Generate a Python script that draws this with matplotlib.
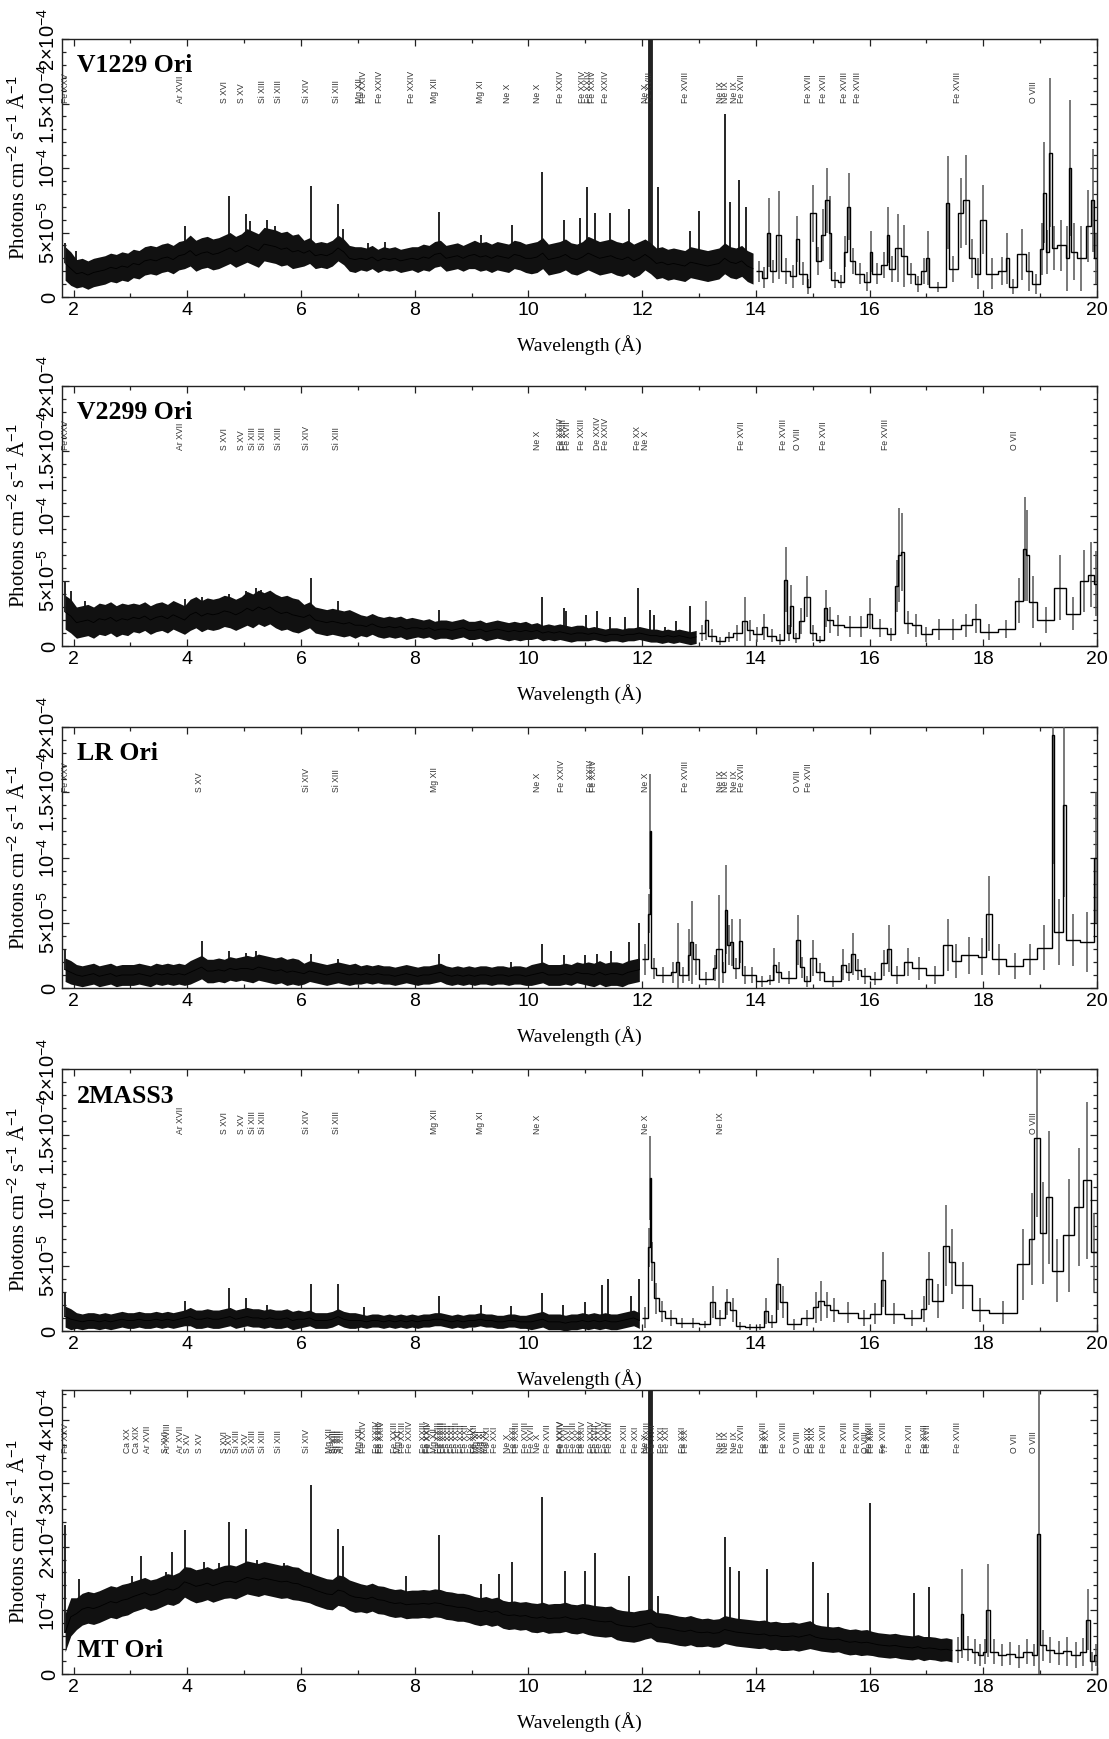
"""
X-ray spectra of five Orion stars (flux vs wavelength), five stacked panels.
"""
import numpy as np
import matplotlib
matplotlib.use("Agg")
import matplotlib.pyplot as plt
from matplotlib.ticker import MultipleLocator
from matplotlib.transforms import blended_transform_factory

plt.rcParams["font.family"] = ["Liberation Sans", "DejaVu Sans"]
plt.rcParams["mathtext.fontset"] = "custom"
plt.rcParams["mathtext.rm"] = "Liberation Sans"
plt.rcParams["mathtext.it"] = "Liberation Sans:italic"
plt.rcParams["mathtext.bf"] = "Liberation Sans:bold"

UNIT = 1e-5          # all flux lists below are in units of 1e-5 photons/cm2/s/A
FINE_START = 1.8     # dense part of each spectrum: 0.1 A bins from here
FINE_STEP = 0.1

# ---------------- V1229 Ori ----------------
v1229_fine = [2.6, 2.2,
              1.8, 1.9, 1.7, 1.9, 2.0, 2.1, 2.3, 2.2, 2.4, 2.3,
              2.6, 2.5, 2.8, 2.9, 2.8, 3.0, 3.1, 2.9, 3.2, 3.3,
              3.6, 3.2, 3.4, 3.5, 3.3, 3.4, 3.6, 3.8, 3.5, 3.7,
              4.0, 3.8, 3.6, 4.1, 4.0, 3.9, 3.7, 3.8, 3.5, 3.6,
              3.4, 3.6, 3.2, 3.3, 3.2, 3.4, 3.8, 3.5, 3.0, 2.9,
              3.0, 2.9, 3.1, 2.8, 3.0, 2.9, 3.0, 2.8, 2.9, 3.0,
              2.9, 3.1, 3.0, 3.3, 3.4, 3.0, 3.1, 3.2, 3.0, 3.2,
              3.3, 3.1, 3.2, 3.0, 3.2, 3.1, 3.0, 3.3, 3.2, 3.0,
              3.0, 3.1, 3.4, 2.9, 3.0, 3.1, 3.3, 3.0, 2.9, 3.1,
              3.4, 3.2, 3.0, 3.1, 3.2, 3.0, 2.9, 3.1, 2.8, 3.0,
              3.3, 3.0, 2.6, 2.7, 2.5, 2.6, 2.5, 2.4, 2.7, 2.6,
              2.5, 2.4, 2.5, 2.6, 3.0, 2.7, 2.6, 2.8, 2.4, 2.2]
v1229_noise = [1.3, 1.1, 1.1, 1.2, 1.3, 1.0, 0.9, 1.0, 1.1, 1.2, 1.3, 1.2, 1.2]
v1229_spikes = [(1.85, 4.2), (2.05, 3.6), (3.95, 5.5), (4.73, 7.8), (5.04, 6.4),
                (5.10, 5.9), (5.40, 6.0), (5.55, 5.5), (5.70, 5.0), (6.18, 8.6),
                (6.65, 7.2), (6.74, 5.3), (7.17, 4.2), (7.47, 4.3), (8.42, 6.6),
                (9.17, 4.8), (9.71, 5.6), (10.24, 9.7), (10.62, 6.0), (10.90, 6.1),
                (11.03, 8.5), (11.17, 6.5), (11.43, 6.5), (11.77, 6.8), (12.13, 25.0),
                (12.28, 8.5), (12.85, 5.1), (13.00, 6.7), (13.45, 14.2), (13.55, 7.4),
                (13.70, 9.1), (13.82, 7.0)]
v1229_strong = [12.13]
# coarse bins: (lo, hi, flux, error)
v1229_bins = [(14.00, 14.10, 2.0, 0.8), (14.10, 14.20, 1.5, 0.8), (14.20, 14.25, 5.0, 2.7),
              (14.25, 14.35, 2.0, 0.9), (14.35, 14.45, 4.8, 3.4), (14.45, 14.60, 2.0, 1.0),
              (14.60, 14.70, 1.6, 0.9), (14.70, 14.75, 4.5, 1.8), (14.75, 14.90, 1.8, 0.9),
              (14.90, 14.95, 0.8, 0.6), (14.95, 15.05, 6.5, 2.2), (15.05, 15.15, 2.8, 1.1),
              (15.15, 15.22, 4.8, 2.0), (15.22, 15.28, 7.5, 2.5), (15.28, 15.32, 5.0, 2.8),
              (15.32, 15.45, 1.3, 0.6), (15.45, 15.55, 1.2, 0.5), (15.55, 15.60, 3.5, 1.2),
              (15.60, 15.66, 7.0, 2.6), (15.66, 15.75, 2.8, 1.0), (15.75, 15.90, 1.8, 0.8),
              (15.90, 16.00, 1.2, 0.7), (16.00, 16.05, 3.5, 1.6), (16.05, 16.20, 1.8, 0.8),
              (16.20, 16.30, 2.5, 1.0), (16.30, 16.35, 4.8, 2.2), (16.35, 16.45, 2.2, 1.0),
              (16.45, 16.55, 3.8, 2.6), (16.55, 16.65, 3.2, 2.4), (16.65, 16.80, 1.8, 0.8),
              (16.80, 16.90, 1.0, 0.6), (16.90, 17.00, 2.0, 1.0), (17.00, 17.05, 3.0, 2.1),
              (17.05, 17.35, 0.8, 0.4), (17.35, 17.40, 7.3, 3.6), (17.40, 17.55, 2.2, 1.0),
              (17.55, 17.65, 6.5, 2.7), (17.65, 17.75, 7.5, 3.5), (17.75, 17.85, 3.0, 1.5),
              (17.85, 17.95, 1.8, 1.2), (17.95, 18.05, 6.0, 2.7), (18.05, 18.25, 1.8, 1.2),
              (18.25, 18.40, 2.0, 1.1), (18.40, 18.45, 3.0, 2.0), (18.45, 18.60, 0.8, 0.6),
              (18.60, 18.75, 3.3, 2.0), (18.75, 18.85, 2.0, 1.5), (18.85, 19.00, 1.0, 0.8),
              (19.00, 19.05, 3.7, 2.0), (19.05, 19.10, 8.1, 3.9), (19.10, 19.15, 3.5, 1.7),
              (19.15, 19.20, 11.2, 5.8), (19.20, 19.30, 3.8, 1.7), (19.30, 19.45, 4.0, 2.0),
              (19.45, 19.50, 3.0, 2.5), (19.50, 19.55, 10.0, 5.3), (19.55, 19.65, 3.5, 2.2),
              (19.65, 19.80, 3.0, 2.5), (19.80, 19.90, 5.5, 2.8), (19.90, 19.95, 7.5, 4.0),
              (19.95, 20.00, 3.0, 2.0)]
v1229_ids = [(1.93, "Fe XXV"), (3.95, "Ar XVII"), (4.73, "S XVI"), (5.04, "S XV"),
             (5.40, "Si XIII"), (5.68, "Si XIII"), (6.18, "Si XIV"), (6.70, "Si XIII"),
             (7.11, "Mg XII"), (7.17, "Fe XXIV"), (7.46, "Fe XXIV"), (8.03, "Fe XXIV"),
             (8.42, "Mg XII"), (9.23, "Mg XI"), (9.71, "Ne X"), (10.24, "Ne X"),
             (10.64, "Fe XXIV"), (11.03, "Fe XXIV"), (11.14, "Fe XXIV"), (11.20, "Fe XXIV"),
             (11.43, "Fe XXIV"), (12.13, "Ne X"), (12.20, "Fe XVIII"), (12.85, "Fe XVIII"),
             (13.45, "Ne IX"), (13.55, "Ne IX"), (13.70, "Ne IX"), (13.82, "Fe XVII"),
             (15.01, "Fe XVII"), (15.26, "Fe XVII"), (15.63, "Fe XVIII"), (15.87, "Fe XVIII"),
             (17.62, "Fe XVIII"), (18.97, "O VIII")]

# ---------------- V2299 Ori ----------------
v2299_fine = [2.6, 2.3,
              1.8, 1.9, 2.0, 1.8, 2.1, 2.0, 2.2, 1.9, 2.1, 2.0,
              2.2, 2.1, 2.3, 2.0, 2.2, 2.3, 2.1, 2.4, 2.2, 2.0,
              2.4, 2.6, 2.3, 2.5, 2.4, 2.5, 2.7, 2.6, 2.4, 2.6,
              2.9, 2.7, 3.0, 2.8, 3.0, 2.7, 2.5, 2.6, 2.4, 2.3,
              2.2, 2.4, 2.0, 1.9, 1.8, 1.9, 1.8, 1.7, 1.8, 1.6,
              1.6, 1.5, 1.7, 1.5, 1.4, 1.5, 1.4, 1.5, 1.3, 1.4,
              1.4, 1.3, 1.4, 1.2, 1.3, 1.3, 1.2, 1.3, 1.4, 1.2,
              1.2, 1.3, 1.1, 1.2, 1.3, 1.2, 1.1, 1.2, 1.1, 1.2,
              1.1, 1.2, 1.0, 1.1, 1.0, 1.1, 1.0, 0.9, 1.0, 1.0,
              0.9, 1.0, 0.9, 0.8, 0.9, 0.9, 0.8, 0.9, 0.9, 1.0,
              0.9, 0.8, 0.8, 0.7, 0.8, 0.7, 0.8, 0.7, 0.6, 0.7]
v2299_noise = [1.3, 1.2, 1.1, 1.2, 1.3, 1.0, 0.8, 0.7, 0.7, 0.6, 0.5, 0.5]
v2299_spikes = [(1.85, 5.0), (1.95, 4.2), (2.20, 3.5), (3.95, 3.6), (4.25, 3.8),
                (4.73, 4.0), (5.04, 4.2), (5.20, 4.5), (5.30, 4.3), (5.45, 4.1),
                (6.18, 5.2), (6.65, 3.5), (8.42, 2.8), (10.24, 3.8), (10.62, 2.9),
                (10.66, 2.7), (11.02, 2.4), (11.20, 2.7), (11.43, 2.2), (11.70, 2.2),
                (11.92, 4.5), (12.13, 2.8), (12.20, 2.4), (12.40, 1.5), (12.60, 1.9),
                (12.85, 3.1)]
v2299_strong = []
v2299_bins = [(13.00, 13.10, 1.0, 0.6), (13.10, 13.15, 2.0, 1.5), (13.15, 13.30, 0.8, 0.5),
              (13.30, 13.45, 0.4, 0.3), (13.45, 13.60, 0.7, 0.4), (13.60, 13.75, 1.0, 0.6),
              (13.75, 13.85, 1.9, 1.9), (13.85, 13.95, 1.2, 0.8), (13.95, 14.10, 0.9, 0.6),
              (14.10, 14.20, 1.5, 1.0), (14.20, 14.35, 0.8, 0.5), (14.35, 14.50, 0.5, 0.4),
              (14.50, 14.55, 5.1, 2.5), (14.55, 14.60, 1.0, 0.6), (14.60, 14.65, 3.1, 1.6),
              (14.65, 14.75, 0.6, 0.4), (14.75, 14.85, 1.9, 1.0), (14.85, 14.95, 3.8, 1.6),
              (14.95, 15.05, 1.0, 0.6), (15.05, 15.20, 0.5, 0.3), (15.20, 15.25, 2.9, 1.4),
              (15.25, 15.35, 2.0, 1.0), (15.35, 15.55, 1.6, 0.8), (15.55, 15.75, 1.5, 0.8),
              (15.75, 15.95, 1.5, 0.8), (15.95, 16.05, 2.5, 1.2), (16.05, 16.30, 1.4, 0.7),
              (16.30, 16.45, 0.9, 0.5), (16.45, 16.50, 4.6, 2.0), (16.50, 16.55, 7.0, 3.6),
              (16.55, 16.60, 7.2, 3.0), (16.60, 16.75, 1.8, 0.9), (16.75, 16.90, 1.6, 0.9),
              (16.90, 17.10, 0.9, 0.6), (17.10, 17.35, 1.3, 0.8), (17.35, 17.60, 1.3, 0.8),
              (17.60, 17.80, 1.6, 0.9), (17.80, 17.95, 2.1, 1.1), (17.95, 18.25, 1.1, 0.6),
              (18.25, 18.55, 1.3, 0.7), (18.55, 18.70, 3.5, 1.7), (18.70, 18.75, 7.5, 4.0),
              (18.75, 18.80, 7.0, 3.5), (18.80, 18.95, 3.4, 2.0), (18.95, 19.25, 2.0, 1.0),
              (19.25, 19.45, 4.5, 2.5), (19.45, 19.70, 2.5, 1.3), (19.70, 19.85, 5.0, 2.4),
              (19.85, 19.95, 5.5, 2.5), (19.95, 20.00, 4.8, 2.5)]
v2299_ids = [(1.93, "Fe XXV"), (3.95, "Ar XVII"), (4.73, "S XVI"), (5.04, "S XV"),
             (5.22, "Si XIII"), (5.40, "Si XIII"), (5.68, "Si XIII"), (6.18, "Si XIV"),
             (6.70, "Si XIII"), (10.24, "Ne X"), (10.64, "Fe XXIV"), (10.70, "Fe XXIII"),
             (10.77, "Fe XVII"), (11.02, "Fe XXIII"), (11.30, "De XXIV"), (11.43, "Fe XXIV"),
             (12.00, "Fe XX"), (12.13, "Ne X"), (13.82, "Fe XVII"), (14.56, "Fe XVIII"),
             (14.82, "O VIII"), (15.26, "Fe XVII"), (16.36, "Fe XVIII"), (18.63, "O VII")]

# ---------------- LR Ori ----------------
lr_fine = [1.4, 1.2,
           1.0, 0.9, 1.0, 1.1, 0.9, 1.0, 1.1, 0.9, 1.0, 1.0,
           1.0, 1.1, 1.0, 0.9, 1.1, 1.0, 1.1, 1.0, 1.1, 1.0,
           1.2, 1.4, 1.6, 1.3, 1.3, 1.4, 1.3, 1.5, 1.4, 1.5,
           1.5, 1.4, 1.6, 1.5, 1.4, 1.3, 1.4, 1.2, 1.3, 1.2,
           1.1, 1.3, 1.2, 1.1, 1.0, 1.1, 1.2, 1.1, 1.0, 1.1,
           1.0, 1.1, 1.0, 1.1, 1.0, 1.0, 0.9, 1.0, 1.1, 1.0,
           0.9, 1.0, 1.0, 1.1, 1.2, 1.0, 0.9, 1.0, 0.9, 1.0,
           0.9, 1.0, 1.0, 0.9, 1.0, 1.0, 0.9, 1.0, 1.0, 0.9,
           1.0, 1.1, 1.2, 1.0, 1.0, 1.0, 1.1, 1.0, 1.2, 1.1,
           1.1, 1.0, 1.2, 1.0, 1.1, 1.1, 1.0, 1.2, 1.3, 1.4]
lr_noise = [0.9, 0.8, 0.8, 0.9, 1.0, 0.8, 0.7, 0.7, 0.7, 0.8, 0.9]
lr_spikes = [(1.85, 3.0), (4.25, 3.6), (4.73, 2.8), (5.04, 2.7), (5.20, 2.8),
             (6.18, 2.6), (6.65, 2.2), (8.42, 2.6), (9.70, 2.0), (10.24, 3.4),
             (10.62, 2.5), (11.00, 2.5), (11.20, 2.6), (11.45, 2.8), (11.77, 3.5),
             (11.95, 5.0)]
lr_strong = []
lr_bins = [(12.00, 12.10, 2.2, 1.2), (12.10, 12.13, 5.7, 1.5), (12.13, 12.16, 12.0, 4.4),
           (12.16, 12.25, 1.5, 0.8), (12.25, 12.50, 1.0, 0.6), (12.50, 12.60, 1.2, 0.8),
           (12.60, 12.65, 2.0, 3.0), (12.65, 12.80, 1.0, 0.6), (12.80, 12.85, 2.5, 2.0),
           (12.85, 12.90, 3.5, 3.2), (12.90, 13.00, 2.2, 1.2), (13.00, 13.25, 0.7, 0.5),
           (13.25, 13.30, 1.5, 1.0), (13.30, 13.40, 3.0, 4.1), (13.40, 13.45, 1.2, 0.8),
           (13.45, 13.50, 6.0, 3.4), (13.50, 13.55, 3.3, 1.5), (13.55, 13.60, 3.5, 1.8),
           (13.60, 13.70, 1.5, 0.8), (13.70, 13.75, 3.6, 1.7), (13.75, 13.85, 1.0, 0.7),
           (13.85, 14.00, 1.0, 0.6), (14.00, 14.20, 0.5, 0.4), (14.20, 14.30, 0.6, 0.4),
           (14.30, 14.35, 1.8, 1.3), (14.35, 14.45, 1.2, 0.8), (14.45, 14.70, 0.8, 0.5),
           (14.70, 14.78, 3.7, 1.9), (14.78, 14.85, 1.6, 0.8), (14.85, 14.95, 0.5, 0.4),
           (14.95, 15.05, 2.3, 1.4), (15.05, 15.20, 1.2, 0.7), (15.20, 15.50, 0.5, 0.4),
           (15.50, 15.58, 1.8, 1.2), (15.58, 15.68, 1.2, 0.7), (15.68, 15.75, 2.6, 1.6),
           (15.75, 15.85, 1.4, 0.8), (15.85, 16.00, 0.9, 0.6), (16.00, 16.20, 0.7, 0.5),
           (16.20, 16.30, 1.9, 1.0), (16.30, 16.38, 3.0, 1.8), (16.38, 16.60, 1.0, 0.7),
           (16.60, 16.75, 2.0, 1.1), (16.75, 17.00, 1.5, 0.9), (17.00, 17.30, 1.0, 0.7),
           (17.30, 17.45, 3.3, 2.0), (17.45, 17.60, 2.1, 1.3), (17.60, 17.90, 2.5, 1.4),
           (17.90, 18.05, 2.4, 1.4), (18.05, 18.15, 5.7, 2.9), (18.15, 18.40, 2.2, 1.2),
           (18.40, 18.70, 1.7, 1.0), (18.70, 18.95, 2.2, 1.2), (18.95, 19.20, 3.1, 1.7),
           (19.20, 19.25, 19.4, 9.9), (19.25, 19.40, 4.3, 2.5), (19.40, 19.45, 14.0, 7.0),
           (19.45, 19.70, 3.7, 2.0), (19.70, 19.95, 3.5, 2.3), (19.95, 20.00, 10.0, 5.0)]
lr_ids = [(1.93, "Fe XXV"), (4.30, "S XV"), (6.18, "Si XIV"), (6.70, "Si XIII"),
          (8.42, "Mg XII"), (10.24, "Ne X"), (10.66, "Fe XXIV"), (11.17, "Fe XXIV"),
          (11.23, "Fe XXIV"), (12.13, "Ne X"), (12.85, "Fe XVIII"), (13.45, "Ne IX"),
          (13.55, "Ne IX"), (13.70, "Ne IX"), (13.82, "Fe XVII"), (14.82, "O VIII"),
          (15.01, "Fe XVII")]

# ---------------- 2MASS3 ----------------
m3_fine = [1.1, 0.9,
           0.8, 0.7, 0.8, 0.8, 0.7, 0.8, 0.7, 0.8, 0.9, 0.8,
           0.8, 0.9, 0.8, 0.8, 0.9, 0.8, 0.9, 0.8, 0.9, 1.0,
           1.1, 0.9, 0.9, 1.0, 0.9, 0.9, 1.0, 1.1, 0.9, 1.0,
           1.1, 1.0, 1.0, 0.9, 1.0, 0.9, 0.9, 1.0, 0.8, 0.9,
           0.9, 1.0, 0.8, 0.8, 0.8, 0.9, 1.1, 0.9, 0.8, 0.8,
           0.8, 0.7, 0.8, 0.8, 0.7, 0.8, 0.7, 0.8, 0.7, 0.8,
           0.7, 0.8, 0.8, 0.9, 0.9, 0.8, 0.7, 0.8, 0.7, 0.8,
           0.8, 0.9, 0.8, 0.8, 0.7, 0.7, 0.8, 0.8, 0.7, 0.7,
           0.7, 0.8, 0.9, 0.7, 0.7, 0.7, 0.6, 0.7, 0.7, 0.8,
           0.7, 0.8, 0.7, 0.8, 0.7, 0.7, 0.8, 0.9, 1.0, 0.8]
m3_noise = [0.8, 0.6, 0.6, 0.7, 0.7, 0.6, 0.5, 0.5, 0.5, 0.6, 0.6]
m3_spikes = [(1.85, 2.9), (3.95, 2.3), (4.73, 3.3), (5.04, 2.5), (5.40, 2.0),
             (6.18, 3.6), (6.65, 3.6), (7.10, 1.8), (8.42, 2.7), (9.17, 2.0),
             (9.70, 1.9), (10.24, 2.9), (10.60, 2.0), (11.00, 2.2), (11.30, 3.5),
             (11.40, 4.0), (11.80, 2.7), (11.95, 4.0)]
m3_strong = []
m3_bins = [(12.00, 12.10, 1.0, 0.8), (12.10, 12.13, 6.4, 1.5), (12.13, 12.16, 11.7, 3.2),
           (12.16, 12.20, 5.3, 1.5), (12.20, 12.30, 2.5, 1.2), (12.30, 12.40, 1.5, 0.8),
           (12.40, 12.60, 1.0, 0.6), (12.60, 12.80, 0.6, 0.4), (12.80, 13.00, 0.6, 0.4),
           (13.00, 13.20, 0.5, 0.3), (13.20, 13.28, 2.2, 1.2), (13.28, 13.45, 1.0, 0.6),
           (13.45, 13.55, 2.2, 1.0), (13.55, 13.65, 1.6, 0.9), (13.65, 13.80, 0.4, 0.3),
           (13.80, 14.00, 0.3, 0.2), (14.00, 14.15, 0.3, 0.2), (14.15, 14.22, 1.5, 1.0),
           (14.22, 14.35, 0.7, 0.5), (14.35, 14.42, 3.6, 2.0), (14.42, 14.55, 2.2, 1.2),
           (14.55, 14.80, 0.5, 0.4), (14.80, 15.00, 1.0, 0.6), (15.00, 15.10, 1.8, 1.2),
           (15.10, 15.20, 2.3, 1.5), (15.20, 15.30, 2.0, 1.0), (15.30, 15.45, 1.6, 0.9),
           (15.45, 15.80, 1.4, 0.8), (15.80, 16.00, 1.0, 0.6), (16.00, 16.20, 1.3, 0.8),
           (16.20, 16.27, 3.9, 2.1), (16.27, 16.60, 1.3, 0.8), (16.60, 16.90, 1.0, 0.6),
           (16.90, 17.00, 1.7, 1.0), (17.00, 17.10, 4.0, 2.0), (17.10, 17.30, 2.3, 1.3),
           (17.30, 17.40, 6.5, 3.1), (17.40, 17.50, 5.3, 2.5), (17.50, 17.80, 3.5, 1.8),
           (17.80, 18.10, 1.6, 0.9), (18.10, 18.60, 1.4, 0.9), (18.60, 18.80, 5.1, 2.7),
           (18.80, 18.90, 7.0, 3.5), (18.90, 19.00, 14.7, 6.0), (19.00, 19.10, 7.5, 3.9),
           (19.10, 19.20, 10.2, 5.1), (19.20, 19.40, 4.6, 2.4), (19.40, 19.60, 7.3, 4.3),
           (19.60, 19.75, 9.5, 4.5), (19.75, 19.90, 11.5, 6.0), (19.90, 20.00, 6.0, 3.0)]
m3_ids = [(3.95, "Ar XVII"), (4.73, "S XVI"), (5.04, "S XV"), (5.22, "Si XIII"),
          (5.40, "Si XIII"), (6.18, "Si XIV"), (6.70, "Si XIII"), (8.42, "Mg XII"),
          (9.23, "Mg XI"), (10.24, "Ne X"), (12.13, "Ne X"), (13.45, "Ne IX"),
          (18.97, "O VIII")]

# ---------------- MT Ori ----------------
mt_fine = [6.5, 9.0,
           9.5, 10.2, 10.5, 10.3, 10.6, 11.0, 11.4, 11.2, 11.6, 11.8,
           12.2, 12.5, 12.8, 12.4, 12.6, 13.0, 13.4, 13.2, 13.6, 14.5,
           14.2, 13.8, 14.0, 14.3, 13.9, 14.2, 14.5, 14.6, 14.4, 14.8,
           15.2, 15.0, 14.8, 15.1, 14.9, 14.7, 14.5, 14.6, 14.3, 14.2,
           13.8, 13.6, 13.2, 12.9, 12.6, 12.5, 13.2, 13.0, 12.4, 12.1,
           12.0, 11.8, 12.1, 11.7, 11.6, 11.3, 11.1, 11.2, 10.9, 11.0,
           11.0, 11.1, 11.0, 11.2, 11.1, 10.8, 10.7, 10.5, 10.5, 10.3,
           10.0, 9.8, 10.0, 9.7, 9.9, 9.4, 9.2, 9.3, 9.1, 9.2,
           8.9, 8.8, 9.0, 8.7, 8.8, 8.8, 9.0, 8.7, 8.6, 8.8,
           8.6, 8.4, 8.3, 8.2, 8.3, 7.8, 7.6, 7.5, 7.4, 7.6,
           7.8, 8.0, 7.4, 7.3, 7.2, 7.0, 6.8, 6.7, 6.9, 6.6,
           6.5, 6.6, 6.4, 6.5, 7.0, 6.8, 6.6, 6.5, 6.4, 6.3,
           6.2, 6.3, 6.0, 6.1, 5.9, 5.9, 6.0, 5.8, 6.0, 6.2,
           5.8, 5.6, 5.5, 5.4, 5.5, 5.2, 5.0, 5.1, 4.9, 5.0,
           4.8, 4.6, 4.5, 4.4, 4.5, 4.3, 4.2, 4.1, 4.3, 4.0,
           4.1, 4.0, 3.8, 3.9, 3.7]
mt_noise = [3.0, 2.5, 2.4, 2.6, 2.6, 2.4, 2.2, 2.2, 2.2, 2.3, 2.4, 2.3, 2.2, 2.2,
            2.0, 1.9, 1.8]
mt_spikes = [(1.85, 23.4), (2.10, 15.0), (3.02, 15.5), (3.19, 18.6), (3.62, 16.0),
             (3.73, 19.2), (3.95, 22.6), (4.30, 17.7), (4.55, 17.5), (4.73, 23.9),
             (5.04, 22.9), (5.22, 18.0), (5.70, 17.5), (6.18, 29.7), (6.65, 22.9),
             (6.74, 20.2), (7.85, 15.5), (8.42, 21.9), (9.17, 14.1), (9.48, 15.8),
             (9.71, 17.7), (10.24, 27.9), (10.65, 16.2), (11.00, 16.2), (11.17, 19.1),
             (11.77, 15.4), (12.13, 50.0), (12.28, 12.2), (13.45, 21.6), (13.55, 16.8),
             (13.70, 16.2), (14.20, 16.5), (15.01, 17.6), (15.26, 12.8), (16.00, 26.9),
             (16.78, 12.8), (17.05, 13.7)]
mt_strong = [12.13]
mt_bins = [(17.50, 17.60, 3.8, 2.0), (17.60, 17.65, 9.5, 7.0), (17.65, 17.80, 4.0, 2.0),
           (17.80, 17.90, 3.5, 2.0), (17.90, 18.00, 3.0, 1.8), (18.00, 18.05, 3.5, 2.0),
           (18.05, 18.12, 10.0, 7.3), (18.12, 18.25, 3.5, 2.0), (18.25, 18.40, 3.0, 1.7),
           (18.40, 18.55, 3.2, 1.8), (18.55, 18.70, 2.7, 1.8), (18.70, 18.85, 3.5, 2.0),
           (18.85, 18.95, 3.0, 1.8), (18.95, 19.00, 22.0, 25.0), (19.00, 19.10, 4.5, 2.5),
           (19.10, 19.25, 3.8, 2.0), (19.25, 19.40, 3.3, 1.9), (19.40, 19.55, 3.6, 2.3),
           (19.55, 19.70, 3.0, 2.0), (19.70, 19.80, 3.4, 2.2), (19.80, 19.88, 8.5, 4.8),
           (19.88, 19.95, 2.0, 1.5), (19.95, 20.00, 3.0, 1.8)]
mt_ids = [(1.93, "Fe XXV"), (3.02, "Ca XX"), (3.19, "Ca XIX"), (3.37, "Ar XVII"),
          (3.70, "S XVI"), (3.73, "Ar XVIII"), (3.95, "Ar XVII"), (4.09, "S XV"),
          (4.30, "S XV"), (4.73, "S XVI"), (4.82, "S XV"), (4.95, "Si XIII"),
          (5.10, "S XV"), (5.22, "Si XIII"), (5.40, "Si XIII"), (5.68, "Si XIII"),
          (6.18, "Si XIV"), (6.58, "Mg XII"), (6.65, "Si XIII"), (6.69, "Si XIII"),
          (6.74, "Si XIII"), (6.79, "Al XIII"), (7.11, "Mg XII"), (7.17, "Fe XXIV"),
          (7.40, "Fe XXIV"), (7.46, "Fe XXIII"), (7.50, "Fe XXIV"), (7.72, "Fe XXIII"),
          (7.80, "Mg XI"), (7.87, "Fe XXIII"), (7.99, "Fe XXIV"), (8.23, "Fe XXIII"),
          (8.30, "Fe XXIV"), (8.32, "Fe XXII"), (8.42, "Mg XII"), (8.49, "Fe XXIII"),
          (8.55, "Fe XXIII"), (8.61, "Fe XXIII"), (8.68, "Fe XXII"), (8.75, "Fe XXII"),
          (8.81, "Fe XXIII"), (8.90, "Fe XXII"), (8.98, "Fe XXII"), (9.07, "Fe XIX"),
          (9.13, "Fe XXII"), (9.17, "Mg XI"), (9.23, "Mg XI"), (9.31, "Mg XI"),
          (9.36, "Fe XXI"), (9.48, "Fe XXI"), (9.71, "Ne X"), (9.81, "Fe XXI"),
          (9.86, "Fe XXIII"), (10.02, "Fe XVIII"), (10.13, "Fe XVII"), (10.24, "Ne X"),
          (10.41, "Fe XVII"), (10.64, "Fe XXIV"), (10.66, "Fe XXIV"), (10.77, "Fe XVII"),
          (10.88, "Fe XXIII"), (10.98, "Fe XX"), (11.03, "Fe XXIV"), (11.18, "Fe XXIV"),
          (11.25, "Fe XVII"), (11.33, "Fe XXIV"), (11.43, "Fe XXIV"), (11.50, "Fe XVIII"),
          (11.77, "Fe XXII"), (11.97, "Fe XXI"), (12.13, "Ne X"), (12.17, "Fe XXIII"),
          (12.26, "Fe XVII"), (12.42, "Fe XXI"), (12.50, "Fe XXI"), (12.79, "Fe XXI"),
          (12.85, "Fe XX"), (13.45, "Ne IX"), (13.55, "Ne IX"), (13.70, "Ne IX"),
          (13.82, "Fe XVII"), (14.21, "Fe XVIII"), (14.26, "Fe XX"), (14.56, "Fe XVIII"),
          (14.82, "O VIII"), (15.01, "Fe XIX"), (15.08, "Fe XIX"), (15.26, "Fe XVII"),
          (15.63, "Fe XVIII"), (15.87, "Fe XVIII"), (16.01, "O VIII"), (16.07, "Fe XVIII"),
          (16.11, "Fe XIX"), (16.32, "Fe XVIII"), (16.36, "??"), (16.78, "Fe XVII"),
          (17.05, "Fe XVII"), (17.10, "Fe XVII"), (17.62, "Fe XVIII"), (18.63, "O VII"),
          (18.97, "O VIII")]

ticks_low = [0, 5e-5, 1e-4, 1.5e-4, 2e-4]
ticklabels_low = ["0", "5×10$^{-5}$", "10$^{-4}$", "1.5×10$^{-4}$", "2×10$^{-4}$"]
ticks_high = [0, 1e-4, 2e-4, 3e-4, 4e-4]
ticklabels_high = ["0", "10$^{-4}$", "2×10$^{-4}$", "3×10$^{-4}$", "4×10$^{-4}$"]

panels = [
    dict(name="V1229 Ori", fine=v1229_fine, noise=v1229_noise, spikes=v1229_spikes,
         strong=v1229_strong, bins=v1229_bins, ids=v1229_ids),
    dict(name="V2299 Ori", fine=v2299_fine, noise=v2299_noise, spikes=v2299_spikes,
         strong=v2299_strong, bins=v2299_bins, ids=v2299_ids),
    dict(name="LR Ori", fine=lr_fine, noise=lr_noise, spikes=lr_spikes,
         strong=lr_strong, bins=lr_bins, ids=lr_ids),
    dict(name="2MASS3", fine=m3_fine, noise=m3_noise, spikes=m3_spikes,
         strong=m3_strong, bins=m3_bins, ids=m3_ids),
    dict(name="MT Ori", fine=mt_fine, noise=mt_noise, spikes=mt_spikes,
         strong=mt_strong, bins=mt_bins, ids=mt_ids),
]

# axes boxes in figure pixels (top, bottom) for a 1109 x 1739 canvas
W, H = 1109, 1739
LEFT, RIGHT = 61.7, 1097
boxes = [(39, 297), (386, 646), (727, 988), (1069, 1331), (1390, 1674)]

SERIF = ["Liberation Serif", "DejaVu Serif"]

fig = plt.figure(figsize=(W / 100, H / 100), dpi=100)

for i, (p, (top, bot)) in enumerate(zip(panels, boxes)):
    ax = fig.add_axes([LEFT / W, 1 - bot / H, (RIGHT - LEFT) / W, (bot - top) / H])
    last = i == len(panels) - 1

    # dense part: envelope band + spikes rising from the continuum
    x = FINE_START + FINE_STEP * (np.arange(len(p["fine"])) + 0.5)
    mid = np.array(p["fine"]) * UNIT
    half = np.array([p["noise"][int(v) - 1] for v in x]) * UNIT
    sw = np.array([s[0] for s in p["spikes"]])
    sp = np.array([s[1] for s in p["spikes"]]) * UNIT
    base = np.interp(sw, x, mid)
    ax.vlines(sw, base, sp, color="black", lw=1.2, zorder=1)
    for wl in p["strong"]:
        pk = dict(p["spikes"])[wl] * UNIT
        ax.vlines(wl, np.interp(wl, x, mid), pk, color="#222222", lw=3.5, zorder=1)
    ax.fill_between(x, np.clip(mid - half, 0, None), mid + half,
                    color="#111111", lw=0, zorder=2)
    ax.plot(x, mid, color="black", lw=0.6, zorder=3)

    # coarse part: histogram with error bars
    lo = np.array([b[0] for b in p["bins"]])
    hi = np.array([b[1] for b in p["bins"]])
    fl = np.array([b[2] for b in p["bins"]]) * UNIT
    er = np.array([b[3] for b in p["bins"]]) * UNIT
    edges = np.append(lo, hi[-1])
    ax.vlines((lo + hi) / 2, fl - er, fl + er, color="#555555", lw=1.1, zorder=3)
    ax.stairs(fl, edges, color="black", lw=1.0, baseline=None, zorder=4)

    ax.set_xlim(1.79, 20)
    if last:
        ax.set_ylim(0, 4.47e-4)
        ax.set_yticks(ticks_high)
        ax.set_yticklabels(ticklabels_high, rotation=90, va="center")
        ax.yaxis.set_minor_locator(MultipleLocator(2e-5))
        id_y = 0.778
    else:
        ax.set_ylim(0, 2e-4)
        ax.set_yticks(ticks_low)
        ax.set_yticklabels(ticklabels_low, rotation=90, va="center")
        ax.yaxis.set_minor_locator(MultipleLocator(1e-5))
        id_y = 0.752
    ax.xaxis.set_major_locator(MultipleLocator(2))
    ax.xaxis.set_minor_locator(MultipleLocator(1))
    ax.tick_params(which="both", direction="in", top=True, right=True,
                   width=0.9, color="#222222")
    ax.tick_params(axis="x", labelsize=14)
    ax.tick_params(axis="y", labelsize=14.5, pad=2)
    ax.tick_params(which="major", length=5)
    ax.tick_params(which="minor", length=3)
    for s in ax.spines.values():
        s.set_linewidth(1.0)
        s.set_color("#222222")

    # line identifications
    trans = blended_transform_factory(ax.transData, ax.transAxes)
    for wl, txt in p["ids"]:
        ax.text(wl, id_y, txt, transform=trans, rotation=90, ha="right",
                va="bottom", fontsize=6.2, color="#333333")

    if last:
        ax.text(0.0145, 0.06, p["name"], transform=ax.transAxes, fontsize=18.5,
                fontweight="bold", family=SERIF, va="baseline")
    else:
        ax.text(0.0145, 0.872, p["name"], transform=ax.transAxes, fontsize=18.5,
                fontweight="bold", family=SERIF, va="baseline")

    ax.set_xlabel("Wavelength (Å)", family=SERIF, fontsize=14, labelpad=12)
    ax.set_ylabel("Photons cm$^{-2}$ s$^{-1}$ Å$^{-1}$", family=SERIF, fontsize=15)
    ax.yaxis.set_label_coords(-0.031, 0.5)

fig.savefig("out.png", dpi=100)
